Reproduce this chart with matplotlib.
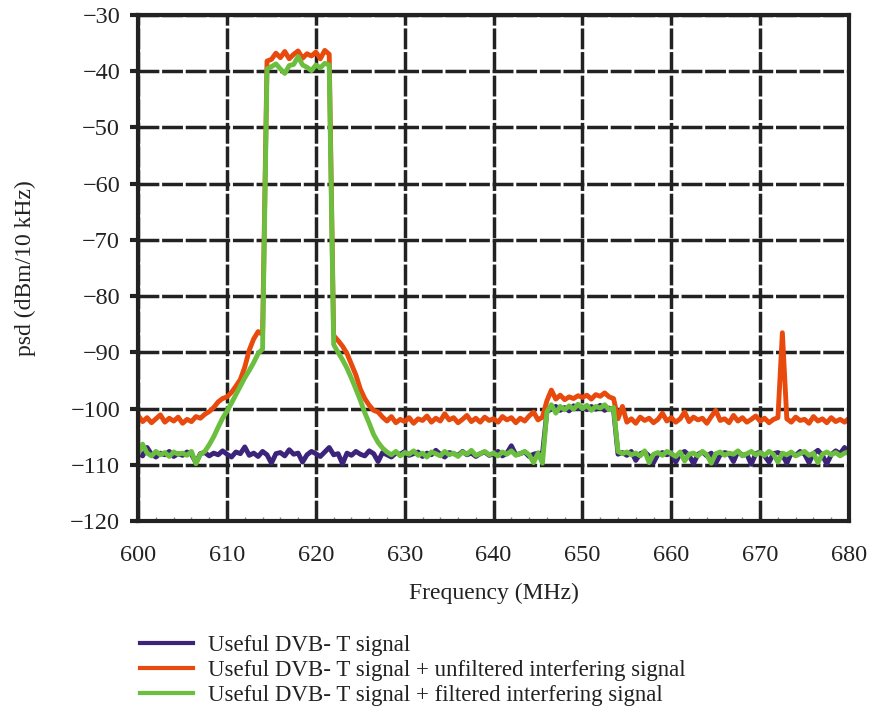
import numpy as np
import matplotlib.pyplot as plt

plt.rcParams['font.family'] = ['Liberation Serif', 'DejaVu Serif']

# frequency grid, 0.5 MHz steps from 600 to 680 MHz
freq = np.arange(600, 680.5, 0.5)

useful = [
    -107.8, -108.4, -106.9, -108.1, -108.6, -107.9, -108.2, -107.6, -108.5, -108.0,
    -108.3, -107.7, -108.1, -109.6, -108.0, -107.8, -108.4, -107.9, -108.2, -107.5,
    -108.1, -108.6, -107.7, -108.0, -106.8, -108.3, -107.9, -108.5, -107.6, -108.2,
    -109.7, -108.0, -107.8, -108.4, -107.3, -108.1, -107.9, -109.5, -108.2, -107.6,
    -108.0, -108.5, -107.7, -106.9, -108.2, -108.0, -109.8, -107.9, -108.3, -107.6,
    -108.1, -108.4, -107.5, -108.0, -109.4, -107.8, -108.2, -108.6, -107.9, -108.1,
    -107.6, -108.3, -108.0, -107.7, -108.5, -107.9, -108.2, -107.4, -108.1, -108.6,
    -107.8, -108.0, -108.3, -107.6, -108.2, -107.9, -108.5, -108.0, -107.7, -108.3,
    -108.1, -107.6, -108.4, -107.9, -106.6, -108.2, -108.0, -107.7, -108.5, -108.1,
    -107.9, -108.0, -100.5, -100.1, -99.6, -100.3, -99.8, -100.4, -99.5, -100.0,
    -99.7, -100.2, -99.6, -100.1, -99.4, -100.3, -99.9, -100.2, -108.1, -107.8,
    -108.3, -107.6, -109.2, -108.0, -107.7, -108.4, -109.6, -108.1, -107.8, -108.2,
    -107.9, -109.5, -108.0, -107.6, -108.3, -109.8, -108.1, -107.7, -108.4, -107.9,
    -109.7, -108.2, -107.8, -108.0, -109.4, -107.6, -108.3, -108.1, -109.9, -108.0,
    -107.7, -108.4, -109.5, -108.0, -107.8, -108.2, -109.7, -107.9, -108.3, -107.6,
    -108.1, -109.6, -108.0, -107.4, -108.3, -109.8, -108.2, -107.5, -108.0, -106.9,
    -108.1,
]

unfiltered = [
    -101.2, -102.3, -101.6, -102.5, -101.8, -101.1, -102.4, -101.7, -102.2, -101.5,
    -102.6, -101.9, -102.3, -101.4, -101.7, -101.0, -100.5, -99.8, -98.8, -98.2,
    -97.9, -97.1, -96.0, -94.8, -92.6, -89.6, -87.6, -86.3, -86.8, -38.2,
    -37.9, -36.8, -37.6, -36.5, -37.8, -37.0, -36.4, -37.7, -36.9, -37.3,
    -36.6, -37.8, -36.3, -37.0, -87.0, -87.9, -88.9, -90.2, -92.1, -94.0,
    -96.5, -98.2, -99.4, -100.3, -100.6, -101.5, -102.2, -101.4, -102.5, -101.9,
    -102.3, -101.6, -102.6, -101.8, -102.1, -101.3, -102.4, -101.7, -102.2, -100.9,
    -102.0, -101.6, -102.5, -101.9, -101.2, -102.3, -101.7, -102.4, -101.5, -102.1,
    -101.8, -102.4, -101.4, -102.0, -101.6, -102.5, -101.7, -102.2, -101.3, -100.6,
    -102.0, -101.5, -98.6, -96.7, -98.3, -97.6, -98.4, -97.9, -98.2, -97.7,
    -98.0, -97.6, -98.3, -97.5, -97.8, -97.2, -97.9, -98.2, -101.8, -99.6,
    -102.4, -101.8, -102.6, -101.5, -102.1, -101.7, -102.5, -101.9, -100.8, -102.2,
    -101.6, -102.4, -101.8, -100.6, -102.3, -101.5, -102.0, -101.7, -102.6, -101.4,
    -100.3, -102.1, -101.8, -102.5, -101.2, -102.2, -101.6, -102.4, -101.9, -101.3,
    -102.2, -101.7, -102.5, -101.9, -101.6, -86.5, -101.8, -102.4, -101.5, -102.1,
    -101.9, -102.6, -101.4, -102.2, -101.8, -102.5, -101.6, -102.3, -101.9, -102.4,
    -101.7,
]

filtered = [
    -108.0, -106.3, -107.9, -108.4, -107.6, -108.2, -107.8, -108.5, -107.7, -108.1,
    -107.9, -108.3, -107.6, -109.8, -108.1, -107.6, -106.4, -105.0, -103.3, -101.7,
    -100.4, -99.0, -97.5, -96.0, -94.5, -93.2, -91.8, -90.2, -89.4, -39.6,
    -39.2, -38.7, -39.6, -40.4, -39.0, -38.8, -37.4, -38.9, -39.3, -39.9,
    -38.9, -39.4, -38.6, -38.9, -88.6, -90.0, -91.3, -92.8, -94.6, -96.5,
    -98.5, -100.7, -102.6, -104.6, -106.0, -107.0, -107.7, -108.2, -107.6, -108.4,
    -107.8, -108.1, -107.5, -108.3, -107.9, -108.6, -107.7, -108.0, -108.4, -107.6,
    -108.2, -107.9, -108.5, -107.7, -108.1, -107.4, -108.3, -108.0, -107.6, -108.2,
    -107.9, -108.4, -107.7, -108.1, -107.5, -108.3, -108.0, -107.6, -108.2, -109.6,
    -107.9, -109.7, -100.6, -99.3, -100.8, -99.6, -100.2, -99.5, -100.1, -99.2,
    -100.0, -99.4, -100.3, -99.6, -99.9, -99.3, -100.2, -99.8, -107.6, -108.0,
    -107.7, -108.2, -107.9, -108.4, -107.5, -109.6, -108.1, -107.8, -108.3, -107.6,
    -108.0, -108.5, -107.7, -109.3, -108.1, -107.9, -108.4, -107.6, -108.2, -109.7,
    -108.0, -107.7, -108.3, -107.9, -108.1, -107.5, -108.4, -108.0, -107.6, -108.2,
    -107.8, -108.3, -107.6, -108.1, -109.5, -107.9, -108.2, -107.7, -108.4, -108.0,
    -107.6, -108.3, -107.9, -109.6, -108.1, -107.7, -108.2, -107.8, -108.4, -107.9,
    -107.6,
]

labels = ["Useful DVB- T signal",
          "Useful DVB- T signal + unfiltered interfering signal",
          "Useful DVB- T signal + filtered interfering signal"]
colors = ["#3b2479", "#e8490c", "#6cbf3e"]

fig = plt.figure(figsize=(8.69, 7.11), dpi=100)
ax = fig.add_axes([0.159, 0.267, 0.818, 0.712])

for y, lab, c in zip([useful, unfiltered, filtered], labels, colors):
    ax.plot(freq, y, color=c, lw=3.5, label=lab)

ax.set_xlim(600, 680)
ax.set_ylim(-120, -30)
ax.set_xticks(np.arange(600, 681, 10))
ax.set_yticks(np.arange(-120, -29, 10))
ax.set_xticks(np.arange(600, 681, 2), minor=True)

ax.grid(True, color="#222222", lw=2.5, linestyle=(0, (6, 0.8)))
ax.set_axisbelow(True)
for s in ax.spines.values():
    s.set_linewidth(3)
    s.set_color("#222222")

ax.tick_params(axis='both', which='major', labelsize=17.5, width=3, length=6,
               color="#222222", labelcolor="#222222")
ax.tick_params(axis='x', which='major', length=0, pad=17)
ax.tick_params(axis='x', which='minor', direction='in', length=3, width=1,
               color="#888888")
ax.tick_params(axis='y', pad=7)

ax.set_xlabel("Frequency (MHz)", fontsize=17, color="#222222", labelpad=12)
fig.text(25 / 869, 0.623, "psd (dBm/10 kHz)", fontsize=17, color="#222222",
         rotation=90, ha='center', va='center')

fig.legend(loc='upper left', bbox_to_anchor=(0.161, 0.107), frameon=False,
           fontsize=16.5, handlelength=2.3, handletextpad=0.65, labelspacing=0.17,
           borderaxespad=0, borderpad=0, labelcolor="#222222")
for h in fig.legends[0].get_lines():
    h.set_linewidth(3)

fig.savefig("out.png", dpi=100)
